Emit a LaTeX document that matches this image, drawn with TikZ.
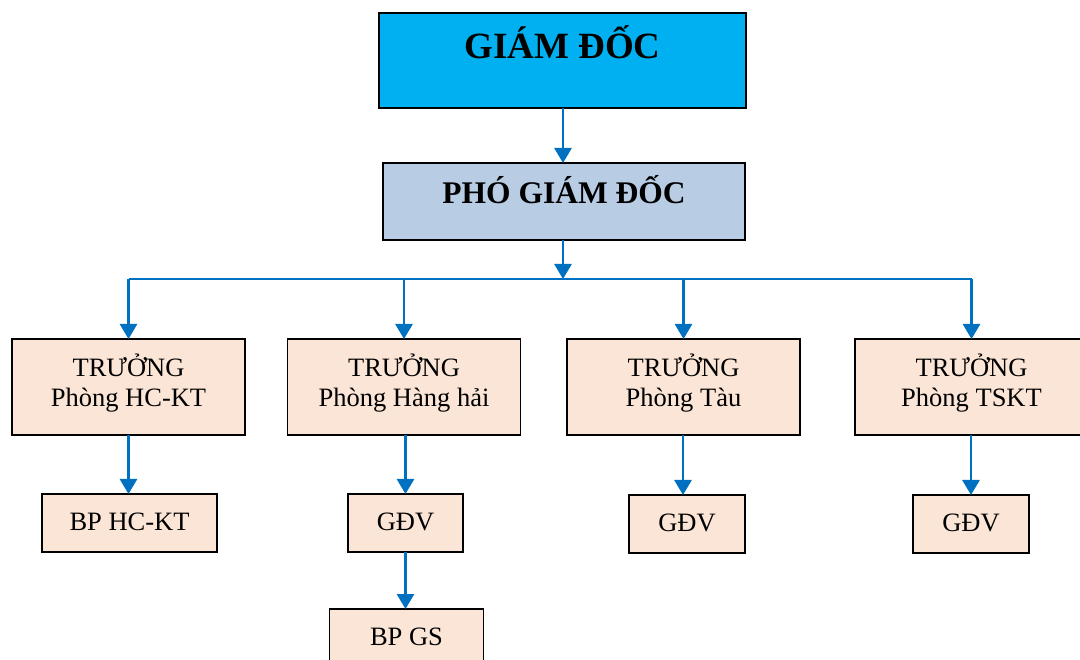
\documentclass[tikz,border=0pt]{standalone}
\usepackage{fontspec}
\setmainfont{Liberation Serif}
\usetikzlibrary{arrows.meta}

\definecolor{topfill}{HTML}{00B0F0}
\definecolor{deputyfill}{HTML}{B8CCE4}
\definecolor{unitfill}{HTML}{FBE5D6}
\definecolor{linkblue}{HTML}{0070C0}

% text lifted relative to the box centre, reported with zero height/depth
\newcommand{\boxtext}[2]{\raisebox{#1}[0pt][0pt]{#2}}
\newcommand{\twolines}[3]{\raisebox{#1}[0pt][0pt]{\begin{tabular}[b]{@{}c@{}}#2\\#3\end{tabular}}}

\tikzset{
  orgbox/.style={draw=black, line width=1.8pt, rectangle, inner sep=0pt, outer sep=0pt},
  headbox/.style={orgbox, fill=topfill, minimum width=367pt, minimum height=95pt,
    font=\fontsize{37}{40}\selectfont\bfseries},
  deputybox/.style={orgbox, fill=deputyfill, minimum width=362pt, minimum height=77pt,
    font=\fontsize{31.5}{34}\selectfont\bfseries},
  deptbox/.style={orgbox, fill=unitfill, minimum width=233pt, minimum height=96pt,
    font=\fontsize{26.5}{30}\selectfont},
  unitbox/.style={orgbox, fill=unitfill, minimum height=58pt,
    font=\fontsize{26.5}{30}\selectfont},
  link/.style={draw=linkblue, line width=2.8pt,
    -{Triangle[width=17pt,length=15pt]}, shorten >=0pt},
  busline/.style={draw=linkblue, line width=2pt}
}

\begin{document}
\begin{tikzpicture}[x=1pt, y=-1pt]
  \useasboundingbox (0,0) rectangle (1080,660);

  % management
  \node[headbox]   (gd)  at (562.5, 60.5)  {\boxtext{1.5pt}{GIÁM ĐỐC}};
  \node[deputybox] (pgd) at (564, 201.5)   {\boxtext{-2.5pt}{PHÓ GIÁM ĐỐC}};

  % departments
  \node[deptbox] (hckt) at (128.5, 387) {\twolines{-20pt}{TRƯỞNG}{Phòng HC-KT}};
  \node[deptbox] (hh)   at (404, 387)   {\twolines{-20pt}{TRƯỞNG}{Phòng Hàng hải}};
  \node[deptbox] (tau)  at (683.5, 387) {\twolines{-20pt}{TRƯỞNG}{Phòng Tàu}};
  \node[deptbox] (tskt) at (971.5, 387) {\twolines{-20pt}{TRƯỞNG}{Phòng TSKT}};

  % sub-units
  \node[unitbox, minimum width=175pt] (bphckt) at (129.5, 523) {\boxtext{-7pt}{BP HC-KT}};
  \node[unitbox, minimum width=115pt] (gdvhh)  at (405.5, 523) {\boxtext{-7.5pt}{GĐV}};
  \node[unitbox, minimum width=154pt] (bpgs)   at (406.5, 638) {\boxtext{-7pt}{BP GS}};
  \node[unitbox, minimum width=116pt] (gdvtau) at (687, 524)   {\boxtext{-7.5pt}{GĐV}};
  \node[unitbox, minimum width=116pt] (gdvts)  at (971, 524)   {\boxtext{-7.5pt}{GĐV}};

  % distribution bus under the deputy director
  \coordinate (busmid)   at (563, 279);
  \coordinate (busleft)  at (hckt.north |- busmid);
  \coordinate (busright) at (tskt.north |- busmid);

  \draw[link] (gd.south -| busmid) -- (pgd.north -| busmid);
  \draw[link] (pgd.south -| busmid) -- (busmid);
  \draw[busline] (busleft) -- (busright);

  \draw[link] (busleft) -- (hckt.north);
  \draw[link] (hh.north |- busmid) -- (hh.north);
  \draw[link] (tau.north |- busmid) -- (tau.north);
  \draw[link] (busright) -- (tskt.north);

  % department to sub-unit links
  \draw[link] (hckt.south) -- (hckt.south |- bphckt.north);
  \draw[link] (hh.south -| gdvhh) -- (gdvhh.north);
  \draw[link] (gdvhh.south) -- (gdvhh.south |- bpgs.north);
  \draw[link] (tau.south -| 683,0) -- (gdvtau.north -| 683,0);
  \draw[link] (tskt.south -| gdvts) -- (gdvts.north);
\end{tikzpicture}
\end{document}
